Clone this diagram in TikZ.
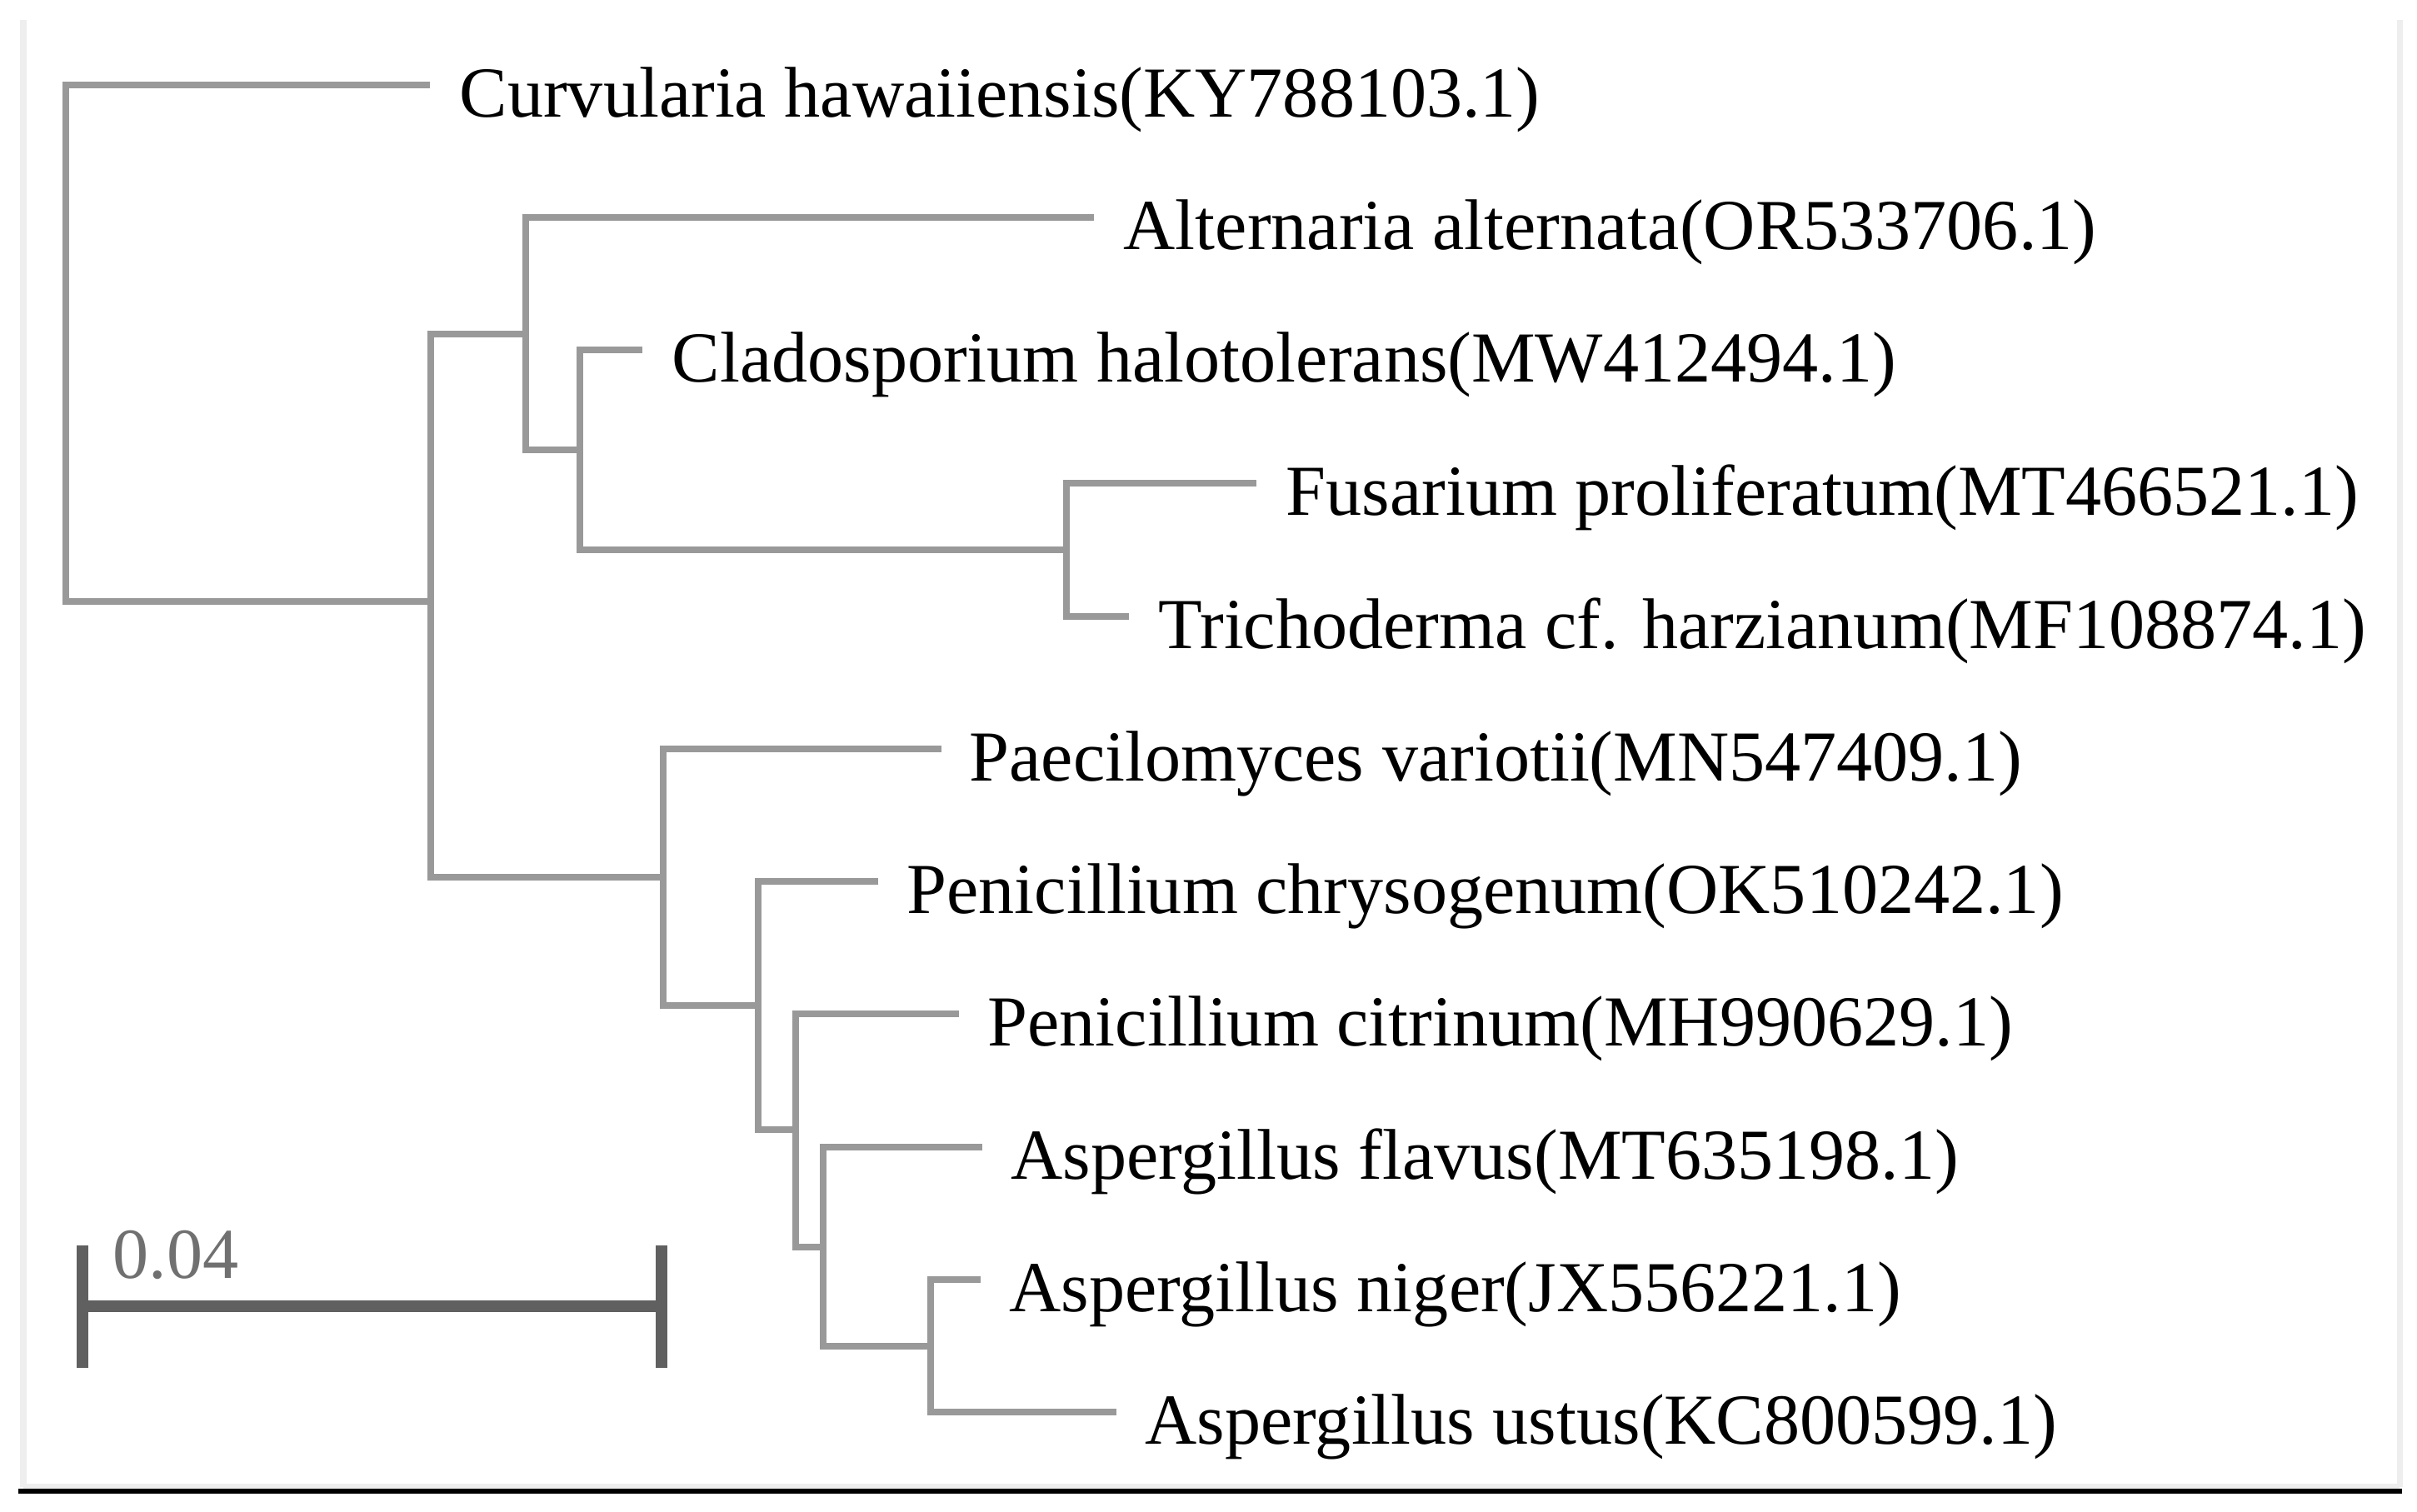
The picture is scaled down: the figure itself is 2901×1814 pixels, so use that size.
\documentclass[tikz,border=0pt]{standalone}
\usepackage{fontspec}
\setmainfont{Liberation Serif}
\definecolor{branchgrey}{HTML}{999999}
\definecolor{bargrey}{HTML}{606060}
\definecolor{labelgrey}{HTML}{707070}
\definecolor{framegrey}{HTML}{EEEEEE}
\tikzset{
  branch/.style={draw=branchgrey, line width=2.15pt},
  scalebar/.style={draw=bargrey, line width=4.1pt},
  leaf/.style={anchor=base west, inner sep=0pt, font=\fontsize{24.5}{29}\selectfont, text=black},
  scalelabel/.style={anchor=base west, inner sep=0pt, font=\fontsize{24.5}{29}\selectfont, text=labelgrey},
}
\begin{document}
\begin{tikzpicture}[x=0.01cm, y=-0.01cm]
\useasboundingbox (0,0) rectangle (2901,1814);
% frame
\draw[framegrey, line width=2pt] (28,24) -- (28,1785);
\draw[framegrey, line width=2pt] (2880,24) -- (2880,1785);
\draw[framegrey, line width=2pt] (28,1784) -- (2880,1784);
\draw[black, line width=1.5pt] (22,1790) -- (2883,1790);
% leaf tips
\coordinate (cur) at (516,102);
\coordinate (alt) at (1313,261);
\coordinate (cla) at (771,420);
\coordinate (fus) at (1508,580);
\coordinate (tri) at (1355,740);
\coordinate (pae) at (1130,899);
\coordinate (pch) at (1054,1058);
\coordinate (pci) at (1151,1217);
\coordinate (afl) at (1179,1377);
\coordinate (ani) at (1177,1536);
\coordinate (aus) at (1340,1695);
% internal nodes
\coordinate (R) at (79,412);
\coordinate (A) at (517,722);
\coordinate (B) at (631,401);
\coordinate (C) at (696,540);
\coordinate (D) at (1280,660);
\coordinate (E) at (796,1053);
\coordinate (F) at (910,1207);
\coordinate (G) at (955,1356);
\coordinate (H) at (988,1497);
\coordinate (I) at (1117,1616);
% branches
\draw[branch] (cur) -| (R) |- (A);
\draw[branch] (B) -| (A) |- (E);
\draw[branch] (alt) -| (B) |- (C);
\draw[branch] (cla) -| (C) |- (D);
\draw[branch] (fus) -| (D) |- (tri);
\draw[branch] (pae) -| (E) |- (F);
\draw[branch] (pch) -| (F) |- (G);
\draw[branch] (pci) -| (G) |- (H);
\draw[branch] (afl) -| (H) |- (I);
\draw[branch] (ani) -| (I) |- (aus);
% labels
\node[leaf] (tcur) at ([shift={(35,38)}]cur) {Curvularia hawaiiensis(KY788103.1)};
\node[leaf] (talt) at ([shift={(35,38)}]alt) {Alternaria alternata(OR533706.1)};
\node[leaf] (tcla) at ([shift={(35,38)}]cla) {Cladosporium halotolerans(MW412494.1)};
\node[leaf] (tfus) at ([shift={(35,38)}]fus) {Fusarium proliferatum(MT466521.1)};
\node[leaf] (ttri) at ([shift={(35,38)}]tri) {Trichoderma cf. harzianum(MF108874.1)};
\node[leaf] (tpae) at ([shift={(33,38)}]pae) {Paecilomyces variotii(MN547409.1)};
\node[leaf] (tpch) at ([shift={(34,38)}]pch) {Penicillium chrysogenum(OK510242.1)};
\node[leaf] (tpci) at ([shift={(34,38)}]pci) {Penicillium citrinum(MH990629.1)};
\node[leaf] (tafl) at ([shift={(34,38)}]afl) {Aspergillus flavus(MT635198.1)};
\node[leaf] (tani) at ([shift={(34,38)}]ani) {Aspergillus niger(JX556221.1)};
\node[leaf] (taus) at ([shift={(34,38)}]aus) {Aspergillus ustus(KC800599.1)};
% scale bar
\coordinate (sbL) at (99,1568);
\coordinate (sbR) at (794,1568);
\coordinate (sbLt) at (99,1495);
\coordinate (sbLb) at (99,1642);
\coordinate (sbRt) at (794,1495);
\coordinate (sbRb) at (794,1642);
\draw[scalebar] (sbL) -- (sbR);
\draw[scalebar] (sbLt) -- (sbLb);
\draw[scalebar] (sbRt) -- (sbRb);
\node[scalelabel] (sblabel) at (135,1534) {0.04};
\end{tikzpicture}
\end{document}
